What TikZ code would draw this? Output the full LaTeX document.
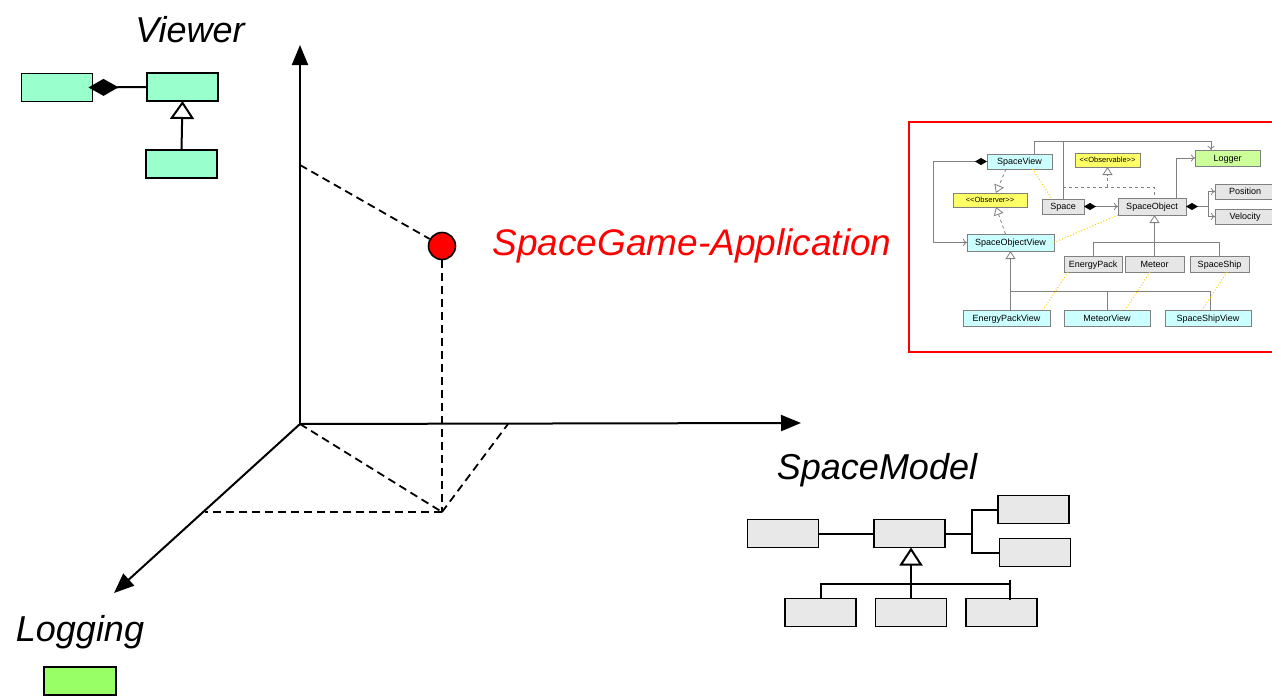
\documentclass[tikz,border=0pt]{standalone}
\usepackage{fontspec}
\setmainfont{Liberation Sans}
\usetikzlibrary{arrows.meta}
\definecolor{viewgreen}{HTML}{99FFCC}
\definecolor{loggreen}{HTML}{99FF66}
\definecolor{modelgray}{HTML}{E8E8E8}
\definecolor{scyan}{HTML}{CCFFFF}
\definecolor{syellow}{HTML}{FFFF66}
\definecolor{sgreen}{HTML}{CCFF99}
\definecolor{sgray}{HTML}{E6E6E6}
\definecolor{sline}{HTML}{808080}
\definecolor{sdot}{HTML}{FFCC00}
\begin{document}
\begin{tikzpicture}[x=1pt,y=-1pt,
  ax/.style={line width=2pt,-{Triangle[length=20pt,width=16pt]}},
  dsh/.style={line width=1.8pt,dash pattern=on 8pt off 5pt},
  bigbox/.style={draw,line width=1.8pt,minimum width=71pt,minimum height=28pt,inner sep=0pt,outer sep=0pt},
  vbox/.style={bigbox,fill=viewgreen},
  mbox/.style={bigbox,fill=modelgray},
  big/.style={font=\fontsize{36}{40}\selectfont\itshape,anchor=base,inner sep=0pt},
  ul/.style={line width=2pt},
  sbox/.style={draw=sline,line width=0.8pt,inner sep=0pt,outer sep=0pt,font=\fontsize{9}{10}\selectfont,text height=6.4pt,text depth=0pt},
  gl/.style={draw=sline,line width=0.8pt},
  op/.style={-{To[open,length=4pt,width=7pt]}},
  dia/.style={{Diamond[length=12pt,width=7pt,black,fill=black]}-},
  otri/.style={-{Triangle[open,length=8pt,width=10pt,fill=white]}},
  yl/.style={draw=sdot,line width=1pt,dotted}
]
\clip (0,0) rectangle (1272,696);
\fill[white] (0,0) rectangle (1272,696);

% ---------- axes ----------
\coordinate (O) at (300,424);
\coordinate (ytip) at (300,45);
\coordinate (xtip) at (801,423);
\coordinate (ztip) at (114,593);
\draw[ax] (O) -- (ytip);
\draw[ax] (O) -- (xtip);
\draw[ax] (O) -- (ztip);

\node[circle,draw,line width=1.6pt,fill=red,minimum size=27pt,inner sep=0pt] (pt) at (442,246) {};
\coordinate (yproj) at (300,165);
\coordinate (foot) at (442,512);
\coordinate (xproj) at (508,424);
\coordinate (zproj) at (205,512);
\draw[dsh] (yproj) -- (pt);
\draw[dsh] (pt) -- (foot);
\draw[dsh] (O) -- (foot);
\draw[dsh] (foot) -- (xproj);
\draw[dsh] (foot) -- (zproj);

% ---------- labels ----------
\node[big] (lview) at (190,42) {Viewer};
\node[big,text=red,font=\fontsize{37}{40}\selectfont\itshape] (lapp) at (692,255) {SpaceGame-Application};
\node[big] (lmodel) at (877,479) {SpaceModel};
\node[big] (llog) at (80,641) {Logging};

% ---------- Viewer UML ----------
\node[vbox] (v1) at (57,87.5) {};
\node[vbox] (v2) at (182.5,87) {};
\node[vbox] (v3) at (181.5,164) {};
\draw[ul,{Diamond[length=30pt,width=17pt]}-] ([xshift=-4pt]v1.east) -- (v2.west);
\draw[ul,-{Triangle[open,length=18pt,width=24pt,fill=white]}] (v3.north) -- (v2.south);

% ---------- Logging ----------
\node[bigbox,fill=loggreen,minimum width=72pt] (lg) at (80,681) {};

% ---------- SpaceModel UML ----------
\node[mbox] (m1) at (783,533.5) {};
\node[mbox] (m2) at (909.5,533.5) {};
\node[mbox] (m3) at (1033.5,509.5) {};
\node[mbox] (m4) at (1035,552.5) {};
\node[mbox] (m5) at (820.5,612.5) {};
\node[mbox] (m6) at (911,612.5) {};
\node[mbox] (m7) at (1001.5,612.5) {};
\draw[ul] (m1.east) -- (m2.west);
\draw[ul] (m2.east) -- ++(27,0) coordinate (mj);
\draw[ul] (m3.west) -| (mj) |- (m4.west);
\draw[ul,-{Triangle[open,length=18pt,width=23pt,fill=white]}] (m6.north) -- (m6.north |- m2.south);
\coordinate (mbus) at (1010,584);
\draw[ul] (m5.north) |- (mbus);
\draw[ul] (1010,580) -- (1010,600);

% ---------- small SpaceGame UML ----------
\draw[red,line width=2pt] (909,122) rectangle (1290,352);

\node[sbox,fill=scyan,minimum width=65pt,minimum height=15pt] (sv) at (1019.5,161.5) {SpaceView};
\node[sbox,fill=syellow,minimum width=65pt,minimum height=14pt,font=\fontsize{7.5}{9}\selectfont,text height=5.4pt] (obsl) at (1107.5,160) {<{}<Observable>{}>};
\node[sbox,fill=sgreen,minimum width=65pt,minimum height=16pt] (log) at (1227.5,158) {Logger};
\node[sbox,fill=syellow,minimum width=74pt,minimum height=14pt,font=\fontsize{7.5}{9}\selectfont,text height=5.4pt] (obsr) at (990,200) {<{}<Observer>{}>};
\node[sbox,fill=sgray,minimum width=42pt,minimum height=15pt] (sp) at (1063,206.5) {Space};
\node[sbox,fill=sgray,minimum width=68pt,minimum height=17pt] (so) at (1152,206.5) {SpaceObject};
\node[sbox,fill=sgray,minimum width=60pt,minimum height=15pt] (pos) at (1245,191.5) {Position};
\node[sbox,fill=sgray,minimum width=60pt,minimum height=15pt] (vel) at (1245,216.5) {Velocity};
\node[sbox,fill=scyan,minimum width=87pt,minimum height=17pt] (sov) at (1010.5,242.5) {SpaceObjectView};
\node[sbox,fill=sgray,minimum width=58pt,minimum height=16pt] (ep) at (1093,264) {EnergyPack};
\node[sbox,fill=sgray,minimum width=59pt,minimum height=16pt] (me) at (1154.5,264) {Meteor};
\node[sbox,fill=sgray,minimum width=59pt,minimum height=16pt] (ss) at (1219.5,264) {SpaceShip};
\node[sbox,fill=scyan,minimum width=87pt,minimum height=16pt] (epv) at (1006.5,318) {EnergyPackView};
\node[sbox,fill=scyan,minimum width=86pt,minimum height=16pt] (mv) at (1107,318) {MeteorView};
\node[sbox,fill=scyan,minimum width=86pt,minimum height=16pt] (ssv) at (1208,318) {SpaceShipView};

% logger links
\draw[gl,op] ([xshift=14.5pt]sv.north) |- ([xshift=-16.5pt]log.north |- 0,141) -- ([xshift=-16.5pt]log.north);
\draw[gl] (sp.north) -- (sp.north |- 0,141);
\draw[gl,op] ([xshift=24pt]so.north) |- (log.west);
% SpaceView composition to SpaceObjectView
\draw[gl,dia] (sv.west) -- ++(-54,0) |- (sov.west);
\draw[gl,op] ([xshift=-34.5pt]sov.west) -- (sov.west);
% observer realisations
\draw[gl,dashed,otri] ([xshift=-13.5pt]sv.south) -- ([xshift=6pt]obsr.north);
\draw[gl,dashed,otri] ([xshift=-5pt]sov.north) -- ([xshift=6pt]obsr.south);
% Space - SpaceObject
\draw[gl,dia] (sp.east) -- (so.west);
\draw[gl,op] ([xshift=-20pt]so.west) -- (so.west);
% SpaceObject - Position/Velocity
\draw[gl,dia] (so.east) -- ++(22,0) coordinate (sj);
\draw[gl,op] (sj) |- (pos.west);
\draw[gl,op] (sj) |- (vel.west);
% Observable realisation
\draw[gl,dashed] (sp.north) |- ([xshift=2pt]so.north |- 0,187) -- ([xshift=2pt]so.north);
\draw[gl,dashed,otri] (obsl.south |- 0,187) -- (obsl.south);
% SpaceObject inheritance
\draw[gl,otri] (me.north) -- (me.north |- so.south);
\draw[gl] (ep.north) -- ++(0,-14) -| (ss.north);
% SpaceObjectView inheritance
\draw[gl,otri] (sov.south |- epv.north) -- (sov.south);
\draw[gl] (sov.south |- 0,291) -| ([xshift=2pt]ssv.north);
\draw[gl] (mv.north) -- (mv.north |- 0,291);
% model-view dotted links
\draw[yl] ([xshift=13pt]sv.south) -- ([xshift=-11pt]sp.north);
\draw[yl] (so.south west) -- (sov.east);
\draw[yl] ([xshift=-25pt]ep.south) -- ([xshift=36.5pt]epv.north);
\draw[yl] ([xshift=-4.5pt]me.south) -- ([xshift=18pt]mv.north);
\draw[yl] ([xshift=7.5pt]ss.south) -- ([xshift=-6pt]ssv.north);
\end{tikzpicture}
\end{document}
